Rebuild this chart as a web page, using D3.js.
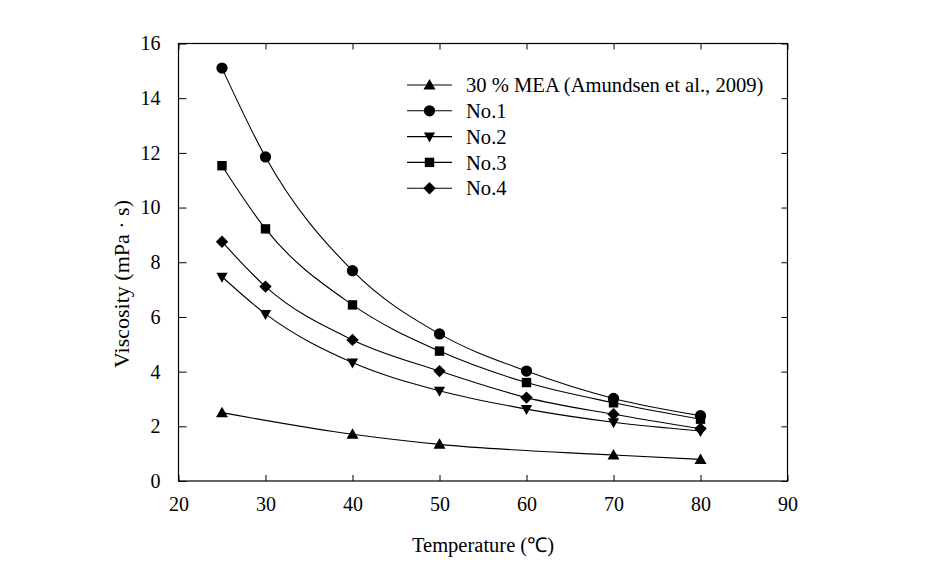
<!DOCTYPE html>
<html><head><meta charset="utf-8">
<script src="https://cdn.jsdelivr.net/npm/d3@7"></script>
<style>body{margin:0;background:#fff}svg text{font-family:"Liberation Serif","Times New Roman",serif;fill:#000}</style>
</head><body><svg id="c" width="935" height="568"></svg>
<script>
const temps = [25, 30, 40, 50, 60, 70, 80];
const meaTemps = [25, 40, 50, 70, 80];
const meaVals = [2.50, 1.71, 1.34, 0.95, 0.79];
const no1Vals = [15.10, 11.85, 7.69, 5.38, 4.02, 3.02, 2.39];
const no2Vals = [7.47, 6.11, 4.33, 3.30, 2.63, 2.15, 1.83];
const no3Vals = [11.53, 9.22, 6.44, 4.75, 3.60, 2.86, 2.26];
const no4Vals = [8.75, 7.11, 5.16, 4.02, 3.05, 2.44, 1.91];
const seriesNames = ["30 % MEA (Amundsen et al., 2009)", "No.1", "No.2", "No.3", "No.4"];
const markerTypes = ["up", "circle", "down", "square", "diamond"];
const xTicks = [20, 30, 40, 50, 60, 70, 80, 90];
const yTicks = [0, 2, 4, 6, 8, 10, 12, 14, 16];

const series = [
  {name: seriesNames[0], marker: markerTypes[0], xs: meaTemps, ys: meaVals},
  {name: seriesNames[1], marker: markerTypes[1], xs: temps, ys: no1Vals},
  {name: seriesNames[2], marker: markerTypes[2], xs: temps, ys: no2Vals},
  {name: seriesNames[3], marker: markerTypes[3], xs: temps, ys: no3Vals},
  {name: seriesNames[4], marker: markerTypes[4], xs: temps, ys: no4Vals}
];

const L = 178.5, R = 787.5, T = 43.5, B = 481;
const x = d3.scaleLinear().domain([20, 90]).range([L, R]);
const y = d3.scaleLinear().domain([0, 16]).range([B, T]);
const svg = d3.select("#c");

function markerPath(type) {
  switch (type) {
    case "circle": return d3.symbol(d3.symbolCircle, 100)();
    case "square": return "M-4.7,-4.7H4.7V4.7H-4.7Z";
    case "diamond": return "M0,-6.2L6.2,0L0,6.2L-6.2,0Z";
    case "up": return "M0,-6L6,4.5L-6,4.5Z";
    case "down": return "M0,6L5.6,-4L-5.6,-4Z";
  }
}

// frame
svg.append("rect").attr("x", L).attr("y", T).attr("width", R - L).attr("height", B - T)
  .attr("fill", "none").attr("stroke", "#000").attr("stroke-width", 1.2);

// axes with inward ticks
const ax = (g, axis) => { g.call(axis); g.select(".domain").remove(); g.selectAll("line").attr("stroke", "#000").attr("stroke-width", 1); g.selectAll("text").attr("font-size", 20).attr("font-family", "Liberation Serif"); };
svg.append("g").attr("transform", `translate(0,${B})`)
  .call(g => ax(g, d3.axisBottom(x).tickValues(xTicks).tickSizeInner(-6).tickSizeOuter(0).tickPadding(16)));
svg.append("g").attr("transform", `translate(0,${T})`)
  .call(g => { ax(g, d3.axisTop(x).tickValues(xTicks).tickSizeInner(-6).tickSizeOuter(0)); g.selectAll("text").remove(); });
svg.append("g").attr("transform", `translate(${L},0)`)
  .call(g => ax(g, d3.axisLeft(y).tickValues(yTicks).tickSizeInner(-8).tickSizeOuter(0).tickPadding(18)));
svg.append("g").attr("transform", `translate(${R},0)`)
  .call(g => { ax(g, d3.axisRight(y).tickValues(yTicks).tickSizeInner(-6).tickSizeOuter(0)); g.selectAll("text").remove(); });

// lines
const line = d3.line().x(d => x(d[0])).y(d => y(d[1])).curve(d3.curveMonotoneX);
series.forEach(s => {
  const pts = s.xs.map((v, i) => [v, s.ys[i]]);
  svg.append("path").attr("d", line(pts)).attr("fill", "none").attr("stroke", "#000").attr("stroke-width", 1.1);
  svg.append("g").selectAll("path").data(pts).join("path")
    .attr("transform", d => `translate(${x(d[0])},${y(d[1])})`)
    .attr("d", markerPath(s.marker)).attr("fill", "#000");
});

// legend
const lg = svg.append("g").attr("transform", "translate(407,85)");
series.forEach((s, i) => {
  const g = lg.append("g").attr("transform", `translate(0,${i * 25.8})`);
  g.append("line").attr("x1", 0).attr("x2", 45).attr("stroke", "#000").attr("stroke-width", 1.1);
  g.append("path").attr("transform", "translate(22.5,0)").attr("d", markerPath(s.marker)).attr("fill", "#000");
  g.append("text").attr("x", 59).attr("dy", "0.35em").attr("font-size", 20.6).text(s.name);
});

// axis titles
svg.append("text").attr("x", (L + R) / 2).attr("y", 552).attr("text-anchor", "middle").attr("font-size", 20.5).text("Temperature (℃)");
svg.append("text").attr("transform", `translate(129,${284}) rotate(-90)`).attr("text-anchor", "middle").attr("font-size", 22).text("Viscosity (mPa · s)");
</script></body></html>
